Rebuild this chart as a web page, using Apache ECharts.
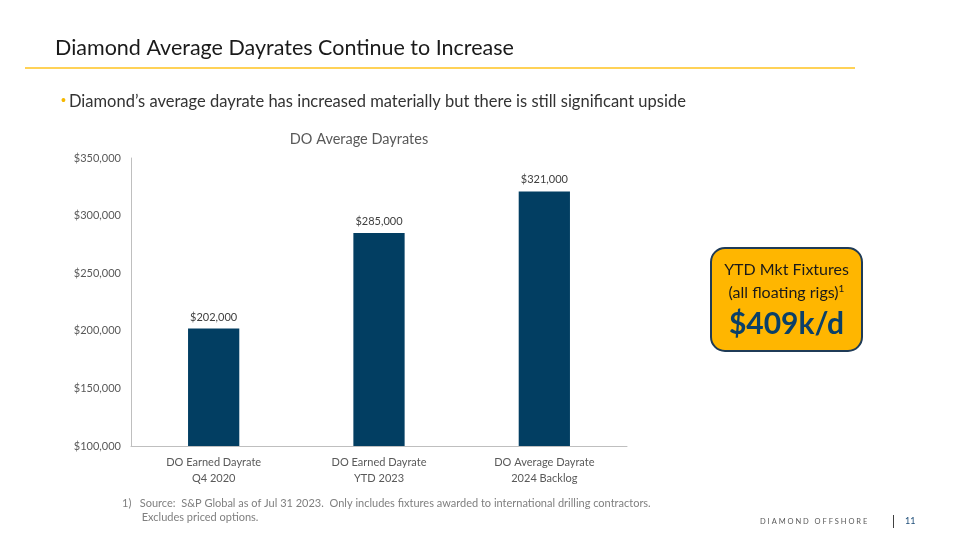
<!DOCTYPE html>
<html><head><meta charset="utf-8">
<script src="https://cdn.jsdelivr.net/npm/echarts@6/dist/echarts.min.js"></script>
<style>html,body{margin:0;padding:0;background:#fff}#c{width:960px;height:540px}</style>
</head><body><div id="c"></div>
<script>
const categories = ['DO Earned Dayrate\nQ4 2020', 'DO Earned Dayrate\nYTD 2023', 'DO Average Dayrate\n2024 Backlog'];
const dayrates = [202000, 285000, 321000];
const yTicks = [100000, 150000, 200000, 250000, 300000, 350000];
const F = 'Lato, "Open Sans", sans-serif';
const fmt = v => '$' + v.toLocaleString('en-US');
const chart = echarts.init(document.getElementById('c'));
chart.setOption({
  animation: false,
  backgroundColor: '#fff',
  title: {text: 'DO Average Dayrates', left: 354, top: 127, textAlign: 'center',
    textStyle: {fontFamily: F, fontSize: 14.5, fontWeight: 'normal', color: '#595959'}},
  grid: {left: 131, right: 333, top: 158, bottom: 94},
  xAxis: {type: 'category', data: categories,
    axisLine: {lineStyle: {color: '#BFBFBF', width: 1}}, axisTick: {show: false},
    axisLabel: {fontFamily: F, fontSize: 11, color: '#595959', lineHeight: 16, margin: 8}},
  yAxis: {type: 'value', min: yTicks[0], max: yTicks[yTicks.length-1], interval: 50000,
    axisLine: {show: true, lineStyle: {color: '#BFBFBF'}}, axisTick: {show: false}, splitLine: {show: false},
    axisLabel: {fontFamily: F, fontSize: 11, color: '#595959', formatter: fmt, margin: 10}},
  series: [{type: 'bar', data: dayrates, barWidth: '31%', itemStyle: {color: '#023E62'},
    label: {show: true, position: 'top', formatter: p => fmt(p.value), fontFamily: F, fontSize: 11, color: '#404040', distance: 6}}],
  graphic: [
    {type: 'text', left: 55, top: 37, style: {text: 'Diamond Average Dayrates Continue to Increase', fontFamily: F, fontSize: 21.5, fill: '#1a1a1a'}},
    {type: 'rect', shape: {x: 25, y: 67, width: 830, height: 2}, style: {fill: '#FFD257'}},
    {type: 'text', left: 61, top: 93, style: {rich: {b: {fill: '#F5B800', fontSize: 14}, t: {fill: '#333', fontSize: 16.5, fontFamily: F}}, text: '{b|•} {t|Diamond’s average dayrate has increased materially but there is still significant upside}', fontFamily: F}},
    {type: 'rect', shape: {x: 711, y: 248, width: 151, height: 103, r: 14}, style: {fill: '#FFB600', stroke: '#1F3B57', lineWidth: 2}},
    {type: 'text', x: 786.5, y: 270, style: {text: 'YTD Mkt Fixtures', align: 'center', verticalAlign: 'middle', fontFamily: F, fontSize: 16, fill: '#1a1a1a'}},
    {type: 'text', x: 786.5, y: 293, style: {rich: {a: {fontFamily: F, fontSize: 16, fill: '#1a1a1a'}, s: {fontFamily: F, fontSize: 10, fill: '#1a1a1a', verticalAlign: 'top', padding: [0,0,8,0]}}, text: '{a|(all floating rigs)}{s|1}', align: 'center', verticalAlign: 'middle'}},
    {type: 'text', x: 786.5, y: 324, style: {text: '$409k/d', align: 'center', verticalAlign: 'middle', fontFamily: F, fontSize: 30, fontWeight: 'bold', fill: '#0B4068'}},
    {type: 'text', left: 122, top: 496, style: {text: '1)   Source:  S&P Global as of Jul 31 2023.  Only includes fixtures awarded to international drilling contractors.\n       Excludes priced options.', fontFamily: F, fontSize: 11, lineHeight: 14, fill: '#7F7F7F'}},
    {type: 'text', left: 760, top: 518, style: {text: 'D I A M O N D   O F F S H O R E', fontFamily: F, fontSize: 7.5, fill: '#595959'}},
    {type: 'rect', shape: {x: 893, y: 515, width: 1, height: 13}, style: {fill: '#404040'}},
    {type: 'text', left: 905, top: 517, style: {text: '11', fontFamily: F, fontSize: 9, fill: '#1F4E79'}}
  ]
});
</script></body></html>
